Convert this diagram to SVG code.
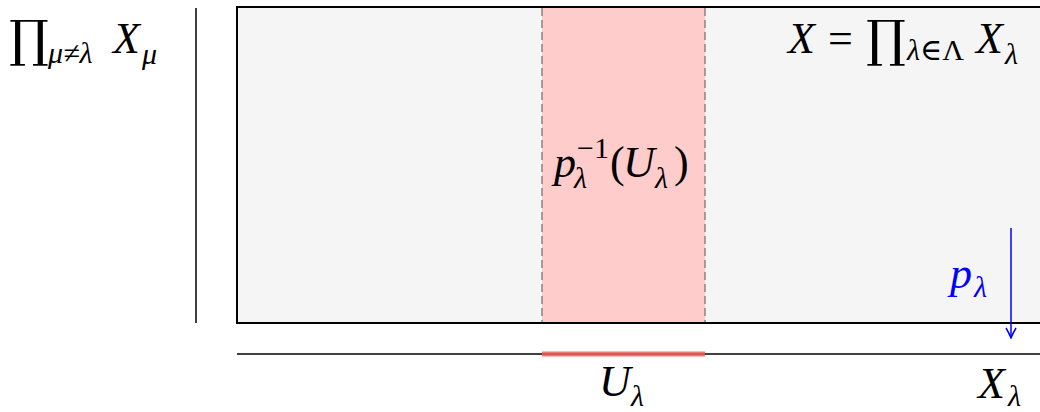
<svg xmlns="http://www.w3.org/2000/svg" width="1040" height="412" viewBox="0 0 1040 412">
<defs>
<style>
.m{font-family:"Liberation Serif","DejaVu Serif",serif;font-size:44px;fill:#000}
.i{font-style:italic}
.s{font-size:30px}
.op{font-family:"DejaVu Serif",serif;font-size:50px;font-style:normal}
.blue{fill:#0000ff}
</style>
<marker id="ah" viewBox="0 0 12 12" refX="11" refY="6" markerWidth="12" markerHeight="12" markerUnits="userSpaceOnUse" orient="auto">
<path d="M1,1 Q6,4 11,6 Q6,8 1,11" fill="none" stroke="#0000ff" stroke-width="1.5"/>
</marker>
</defs>
<rect width="1040" height="412" fill="#fff"/>
<g id="space-X">
<rect x="237" y="7" width="810" height="316" fill="#f5f5f5" stroke="#000" stroke-width="2"/>
</g>
<g id="preimage">
<rect x="542" y="8" width="163" height="314" fill="#ffcccc"/>
<line x1="542" y1="8" x2="542" y2="322" stroke="#777" stroke-width="1.3" stroke-dasharray="8,4"/>
<line x1="705" y1="8" x2="705" y2="322" stroke="#777" stroke-width="1.3" stroke-dasharray="8,4"/>
<text class="m"><tspan class="i" x="554" y="177">p</tspan><tspan class="i s" x="574" y="188">λ</tspan><tspan class="s" x="577" y="158">−1</tspan><tspan x="610" y="177">(</tspan><tspan class="i" x="623" y="177">U</tspan><tspan class="i s" x="655" y="188">λ</tspan><tspan x="674" y="177">)</tspan></text>
</g>
<g id="fiber-axis">
<line x1="196" y1="8" x2="196" y2="323" stroke="#000" stroke-width="1.5"/>
<text class="m"><tspan class="op" x="9" y="56">∏</tspan><tspan class="i s" x="48" y="63">μ≠λ</tspan><tspan class="i" x="113" y="53">X</tspan><tspan class="i s" x="142" y="64">μ</tspan></text>
</g>
<g id="base-axis">
<line x1="237" y1="354" x2="1040" y2="354" stroke="#000" stroke-width="1.5"/>
<text class="m"><tspan class="i" x="978" y="398">X</tspan><tspan class="i s" x="1008" y="406">λ</tspan></text>
</g>
<g id="U-lambda">
<line x1="542" y1="354" x2="705" y2="354" stroke="#f06060" stroke-opacity="0.85" stroke-width="5"/>
<text class="m"><tspan class="i" x="599" y="396">U</tspan><tspan class="i s" x="631" y="406">λ</tspan></text>
</g>
<g id="title">
<text class="m"><tspan class="i" x="788" y="53">X</tspan><tspan x="828" y="53">=</tspan><tspan class="op" x="866" y="56">∏</tspan><tspan class="i s" x="907" y="60">λ∈</tspan><tspan class="s">Λ</tspan><tspan class="i" x="976" y="53">X</tspan><tspan class="i s" x="1005" y="64">λ</tspan></text>
</g>
<g id="connectors">
<line x1="1011" y1="228" x2="1011" y2="338" stroke="#0000ff" stroke-width="1.5" marker-end="url(#ah)"/>
<text class="m blue"><tspan class="i" x="950" y="288">p</tspan><tspan class="i s" x="974" y="297">λ</tspan></text>
</g>
</svg>
